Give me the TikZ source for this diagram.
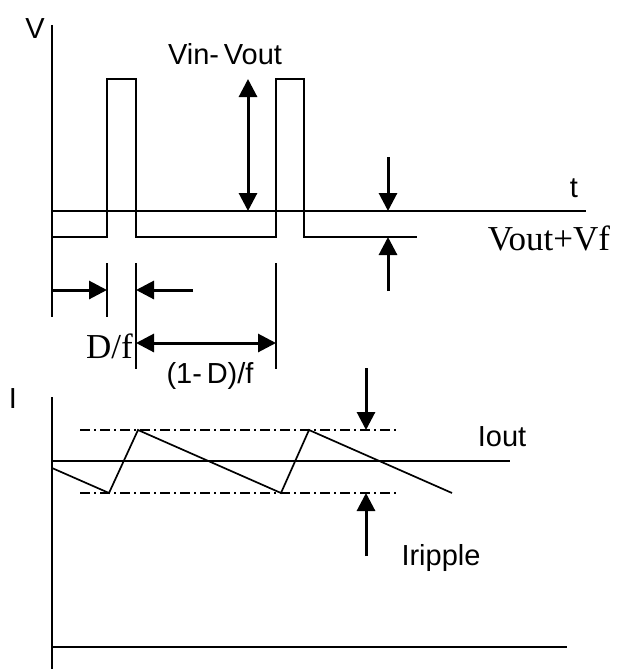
\documentclass[tikz,border=0pt]{standalone}
\usepackage{fontspec}
\setmainfont{Liberation Serif}
\setsansfont{Liberation Sans}
\usetikzlibrary{arrows.meta}
\tikzset{
  axis/.style={line width=1.7pt},
  trace/.style={line width=1.7pt, line join=miter},
  bigarrow/.style={line width=3pt, -{Triangle[length=18pt,width=18pt]}},
  bigboth/.style={line width=3pt, {Triangle[length=18pt,width=18pt]}-{Triangle[length=18pt,width=18pt]}},
  limit/.style={line width=1.7pt, dash pattern=on 10pt off 4pt on 2pt off 4pt},
  sanstext/.style={font=\sffamily\fontsize{29}{31}\selectfont, inner sep=0pt, anchor=base},
  seriftext/.style={font=\rmfamily\fontsize{35}{38}\selectfont, inner sep=0pt, anchor=base},
}
\begin{document}
\begin{tikzpicture}[x=1pt,y=-1pt]
	\useasboundingbox (0,0) rectangle (618,669);
	
	% voltage plot
	\coordinate (vtop) at (52,25);
	\coordinate (vbot) at (52,317);
	\coordinate (t0) at (52,211);
	\coordinate (t1) at (586,211);
	\draw[axis] (vtop) -- (vbot);
	\draw[axis] (t0) -- (t1);
	\draw[trace] (52,237) -- (107,237) -- (107,79) -- (136,79) -- (136,237)
		-- (276,237) -- (276,79) -- (304,79) -- (304,237) -- (417,237);
	
	\coordinate (vinhi) at (248,79);
	\coordinate (vinlo) at (248,211);
	\draw[bigboth] (vinhi) -- (vinlo);
	
	\coordinate (vfa) at (388,157);
	\coordinate (vfb) at (388,211);
	\coordinate (vfc) at (388,291);
	\coordinate (vfd) at (388,237);
	\draw[bigarrow] (vfa) -- (vfb);
	\draw[bigarrow] (vfc) -- (vfd);
	
	% time marks
	\draw[axis] (107,263) -- (107,317);
	\draw[axis] (136,263) -- (136,369);
	\draw[axis] (276,263) -- (276,369);
	\coordinate (da) at (52,290);
	\coordinate (db) at (107,290);
	\coordinate (dc) at (193,290);
	\coordinate (dd) at (136,290);
	\draw[bigarrow] (da) -- (db);
	\draw[bigarrow] (dc) -- (dd);
	\coordinate (pa) at (136,343);
	\coordinate (pb) at (276,343);
	\draw[bigboth] (pa) -- (pb);
	
	% current plot
	\coordinate (itop) at (52,397);
	\coordinate (ibot) at (52,669);
	\draw[axis] (itop) -- (ibot);
	\draw[axis] (52,461) -- (510,461);
	\draw[limit] (80,430) -- (396,430);
	\draw[limit] (80,493) -- (396,493);
	\draw[trace] (52,468) -- (109,493) -- (138,430) -- (281,493) -- (309,430) -- (452,493);
	\coordinate (ra) at (366,368);
	\coordinate (rb) at (366,430);
	\coordinate (rc) at (366,556);
	\coordinate (rd) at (366,493);
	\draw[bigarrow] (ra) -- (rb);
	\draw[bigarrow] (rc) -- (rd);
	\draw[axis] (52,647) -- (567,647);
	
	% labels
	\node[sanstext] (labV) at (35,38) {V};
	\node[sanstext] (labI) at (13,408) {I};
	\node[sanstext] (labVin) at (225,64) {Vin-\,Vout};
	\node[sanstext] (labt) at (574,197) {t};
	\node[seriftext] (labVf) at (549,250) {Vout+Vf};
	\node[seriftext, anchor=base east] (labDf) at (133,358) {D/f};
	\node[sanstext] (labOff) at (210,383) {(1-\,D)/f};
	\node[sanstext] (labIout) at (502,446) {Iout};
	\node[sanstext] (labRip) at (441,565) {Iripple};
\end{tikzpicture}
\end{document}
